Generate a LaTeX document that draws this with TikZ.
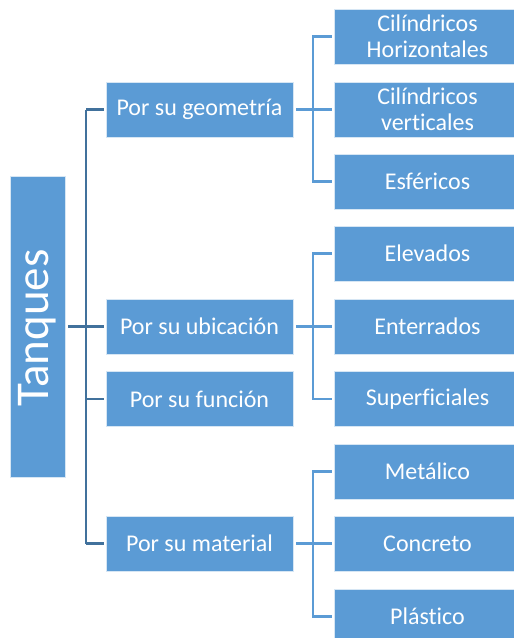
\documentclass[tikz,border=0pt]{standalone}
\usepackage{fontspec}
\setmainfont{Carlito}[Ligatures=NoCommon]
\definecolor{boxblue}{HTML}{5B9BD5}
\definecolor{lineA}{HTML}{41719C}
\definecolor{lineB}{HTML}{5B9BD5}
\tikzset{
  box/.style={fill=boxblue, draw=white!75!boxblue, line width=0.6pt, minimum width=187pt, minimum height=55pt, inner sep=0pt, text=white, align=center, font=\fontsize{24}{25.5}\selectfont},
  rootbox/.style={fill=boxblue, draw=white!75!boxblue, line width=0.6pt, minimum width=55pt, minimum height=301pt, inner sep=0pt},
  lvlA/.style={draw=lineA, line width=2.6pt},
  lvlB/.style={draw=lineB, line width=2.6pt}
}
\begin{document}
\begin{tikzpicture}[x=1pt,y=1pt]
\useasboundingbox (0,0) rectangle (514,-638);
\clip (0,0) rectangle (514,-638);
% root
\node[rootbox] (root) at (37.5,-326.5) {};
\node[rotate=90, text=white, font=\fontsize{47}{50}\selectfont] (roottxt) at (37.5,-328) {Tanques};
% level 1
\node[box] (geo) at (199.5,-109.5) {Por su geometría};
\node[box] (ubi) at (199.5,-326.5) {Por su ubicación};
\node[box] (fun) at (199.5,-399) {Por su función};
\node[box] (mat) at (199.5,-543.5) {Por su material};
% level 2
\node[box] (c1) at (427.5,-36.5) {Cilíndricos\\Horizontales};
\node[box] (c2) at (427.5,-109.5) {Cilíndricos\\verticales};
\node[box] (c3) at (427.5,-181.5) {Esféricos};
\node[box] (e1) at (427.5,-253.5) {Elevados};
\node[box] (e2) at (427.5,-326.5) {Enterrados};
\node[box] (e3) at (427.5,-399) {Superficiales};
\node[box] (m1) at (427.5,-471.5) {Metálico};
\node[box] (m2) at (427.5,-543.5) {Concreto};
\node[box] (m3) at (427.5,-616.5) {Plástico};
% trunk coordinates
\coordinate (tx) at (86,0);
\coordinate (gx) at (313,0);
% level 1 connectors
\draw[lvlA] ([xshift=3pt]root.east |- ubi.west) -- ([xshift=-2pt]ubi.west);
\draw[lvlA] (geo.west -| tx) -- (mat.west -| tx);
\draw[lvlA] (geo.west -| tx) -- ([xshift=-2pt]geo.west);
\draw[lvlA] (fun.west -| tx) -- ([xshift=-2pt]fun.west);
\draw[lvlA] (mat.west -| tx) -- ([xshift=-2pt]mat.west);
% level 2 connectors: geometry
\draw[lvlB] ([xshift=3pt]geo.east) -- ([xshift=-2pt]c2.west);
\draw[lvlB] ([xshift=-2pt]c1.west) -- (c1.west -| gx) -- (c3.west -| gx) -- ([xshift=-2pt]c3.west);
% ubicacion
\draw[lvlB] ([xshift=3pt]ubi.east) -- ([xshift=-2pt]e2.west);
\draw[lvlB] ([xshift=-2pt]e1.west) -- (e1.west -| gx) -- (e3.west -| gx) -- ([xshift=-2pt]e3.west);
% material
\draw[lvlB] ([xshift=3pt]mat.east) -- ([xshift=-2pt]m2.west);
\draw[lvlB] ([xshift=-2pt]m1.west) -- (m1.west -| gx) -- (m3.west -| gx) -- ([xshift=-2pt]m3.west);
\end{tikzpicture}
\end{document}
